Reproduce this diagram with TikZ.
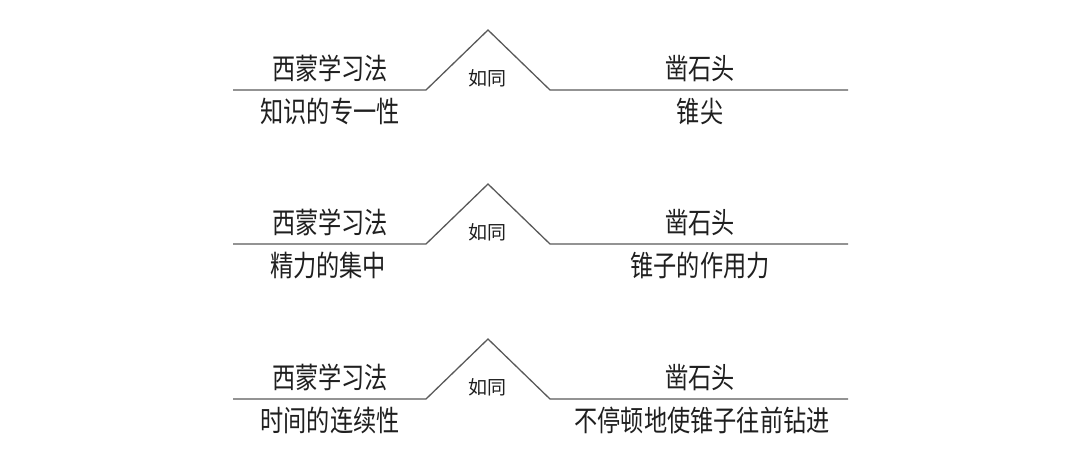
\documentclass[tikz,border=0pt]{standalone}
\usepackage{fontspec}
\newfontfamily\cjk[FakeStretch=0.8]{Noto Sans CJK SC}
\newfontfamily\cjksmall{Noto Sans CJK SC}

\begin{document}
\begin{tikzpicture}[x=1pt,y=-1pt]
  \tikzset{
    rule/.style={line width=1.3pt,black!65,line join=miter},
    word/.style={anchor=base,inner sep=0pt,text=black!88,
      font=\cjk\fontsize{29}{29}\selectfont},
    link/.style={anchor=base,inner sep=0pt,text=black!88,
      font=\cjksmall\fontsize{19}{19}\selectfont}
  }
  \useasboundingbox (0,0) rectangle (1080,467);

  \begin{scope}[shift={(0,90)}]
    \coordinate (a1) at (233,0);
    \coordinate (b1) at (426,0);
    \coordinate (c1) at (488,-60);
    \coordinate (d1) at (550,0);
    \coordinate (e1) at (848,0);
    \draw[rule] (a1) -- (b1) -- (c1) -- (d1) -- (e1);
    \node[word] (lt1) at (330,-11) {西蒙学习法};
    \node[word] (lb1) at (330,32.5) {知识的专一性};
    \node[link] (mid1) at (487,-5) {如同};
    \node[word] (rt1) at (700,-11) {凿石头};
    \node[word] (rb1) at (700,32.5) {锥尖};
  \end{scope}

  \begin{scope}[shift={(0,244)}]
    \coordinate (a2) at (233,0);
    \coordinate (b2) at (426,0);
    \coordinate (c2) at (488,-60);
    \coordinate (d2) at (550,0);
    \coordinate (e2) at (848,0);
    \draw[rule] (a2) -- (b2) -- (c2) -- (d2) -- (e2);
    \node[word] (lt2) at (330,-11) {西蒙学习法};
    \node[word] (lb2) at (328,32.5) {精力的集中};
    \node[link] (mid2) at (487,-5) {如同};
    \node[word] (rt2) at (700,-11) {凿石头};
    \node[word] (rb2) at (700,32.5) {锥子的作用力};
  \end{scope}

  \begin{scope}[shift={(0,399)}]
    \coordinate (a3) at (233,0);
    \coordinate (b3) at (426,0);
    \coordinate (c3) at (488,-60);
    \coordinate (d3) at (550,0);
    \coordinate (e3) at (848,0);
    \draw[rule] (a3) -- (b3) -- (c3) -- (d3) -- (e3);
    \node[word] (lt3) at (330,-11) {西蒙学习法};
    \node[word] (lb3) at (330,32.5) {时间的连续性};
    \node[link] (mid3) at (487,-5) {如同};
    \node[word] (rt3) at (700,-11) {凿石头};
    \node[word] (rb3) at (702,32.5) {不停顿地使锥子往前钻进};
  \end{scope}
\end{tikzpicture}
\end{document}
